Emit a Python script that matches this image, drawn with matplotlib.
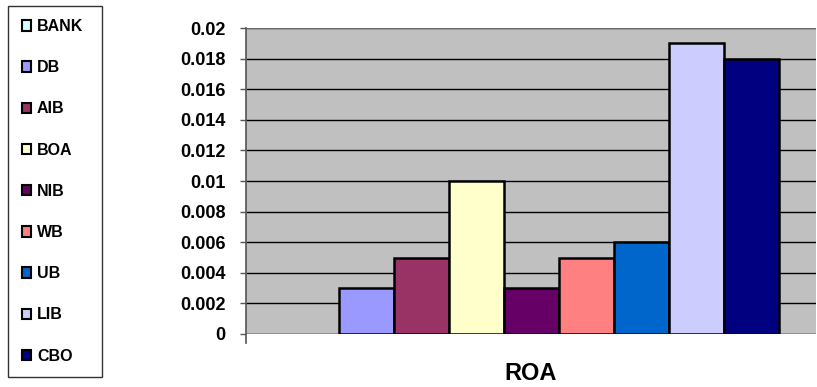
import matplotlib
matplotlib.use("Agg")
import matplotlib.pyplot as plt
from matplotlib.patches import Patch

series = ["BANK", "DB", "AIB", "BOA", "NIB", "WB", "UB", "LIB", "CBO"]
values = [0.0, 0.003, 0.005, 0.010, 0.003, 0.005, 0.006, 0.019, 0.018]
colors = ["#CCFFFF", "#9999FF", "#993366", "#FFFFCC", "#660066",
          "#FF8080", "#0066CC", "#CCCCFF", "#000080"]
category = "ROA"
yticks = [0, 0.002, 0.004, 0.006, 0.008, 0.01, 0.012, 0.014, 0.016, 0.018, 0.02]
ytick_labels = ["0", "0.002", "0.004", "0.006", "0.008", "0.01", "0.012",
                "0.014", "0.016", "0.018", "0.02"]

plt.rcParams['font.family'] = ['Liberation Sans', 'DejaVu Sans']

fig = plt.figure(figsize=(8.17, 3.87), dpi=100)
W, H = 817, 387
ax = fig.add_axes([246 / W, 1 - 334 / H, (816 - 246) / W, (334 - 28) / H])
ax.set_facecolor("#C0C0C0")

n = len(series)
bw = 55 / 570
start = -n * bw / 2
for i, (s, v, c) in enumerate(zip(series, values, colors)):
    if v > 0:
        ax.bar(start + (i + 0.5) * bw, v, width=bw, color=c,
               edgecolor="black", linewidth=1.8, zorder=3)

ax.set_xlim(-0.5, 0.5)
ax.set_ylim(0, 0.02)
ax.set_yticks(yticks)
ax.set_yticklabels(ytick_labels, fontsize=13, fontweight="bold")
ax.yaxis.grid(True, color="black", linewidth=1.0, zorder=1)
ax.set_axisbelow(True)
ax.tick_params(axis="y", length=4.5, width=1, color="#555555", pad=10)
ax.set_xticks([])
ax.set_xlabel(category, fontsize=17, fontweight="bold", labelpad=20)
for side in ["top", "right", "bottom"]:
    ax.spines[side].set_visible(False)
ax.spines["left"].set_color("#555555")
ax.spines["left"].set_linewidth(1.2)
ax.spines["left"].set_bounds(-0.0006, 0.02)
ax.spines["left"].set_clip_on(False)
ax.axhline(0.02, color="#808080", linewidth=1.2, zorder=2)
ax.axhline(0, color="#808080", linewidth=1.0, zorder=2)

handles = [Patch(facecolor=c, edgecolor="black", linewidth=1.5) for c in colors]
leg = fig.legend(handles, series, loc="upper left",
                 bbox_to_anchor=(8 / W, 1 - 5.5 / H, 94 / W, 0),
                 mode="expand",
                 frameon=True, fancybox=False, edgecolor="black",
                 prop={"size": 11.5, "weight": "bold"},
                 handlelength=0.62, handleheight=0.62, handletextpad=0.35,
                 labelspacing=1.64, borderpad=0.85, borderaxespad=0)
leg.get_frame().set_linewidth(1.0)

fig.savefig("out.png", dpi=100)
